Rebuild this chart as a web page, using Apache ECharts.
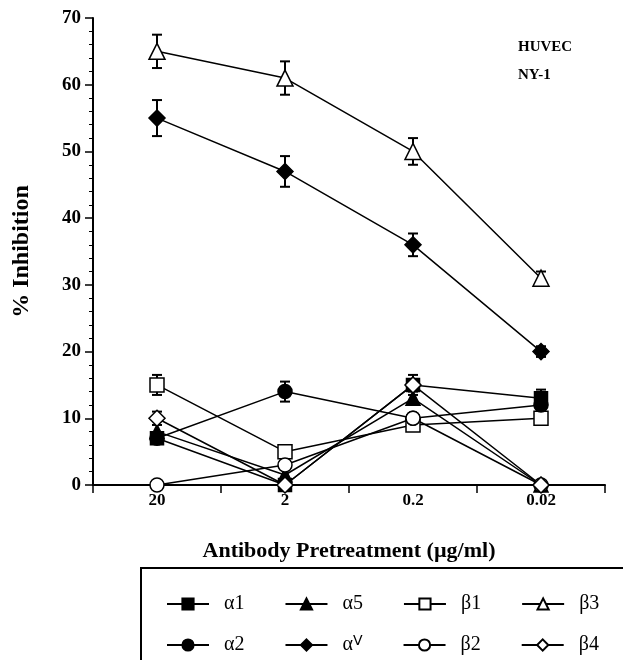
<!DOCTYPE html>
<html>
<head>
<meta charset="utf-8">
<script src="https://cdn.jsdelivr.net/npm/echarts@6/dist/echarts.min.js"></script>
<style>
  html, body { margin: 0; padding: 0; background: #fff; }
  #chart { width: 623px; height: 660px; }
</style>
</head>
<body>
<div id="chart"></div>
<script>
// concentrations (µg/ml)
const doses = ['20', '2', '0.2', '0.02'];
const yTicks = [0, 10, 20, 30, 40, 50, 60, 70];

// % inhibition per antibody
const alpha1 = [7, 0, 15, 13];
const alpha5 = [8, 1.5, 13, 0];
const beta1 = [15, 5, 9, 10];
const beta3 = [65, 61, 50, 31];
const alpha2 = [7, 14, 10, 12];
const alphaV = [55, 47, 36, 20];
const beta2 = [0, 3, 10, 0];
const beta4 = [10, 0, 15, 0];

// error bar half-heights
const alpha1Err = [0, 0, 0, 1.3];
const alpha5Err = [0, 0, 1, 0];
const beta1Err = [1.5, 0, 0, 0];
const beta3Err = [2.5, 2.5, 2, 1];
const alpha2Err = [0, 1.5, 0, 0];
const alphaVErr = [2.7, 2.3, 1.7, 0.8];
const beta4Err = [1, 0, 1.5, 0];

const serif = '"Liberation Serif", "DejaVu Serif", serif';

const defs = [
    { name: 'α1', data: alpha1, err: alpha1Err, symbol: 'rect', size: 13, fill: '#000' },
    { name: 'α5', data: alpha5, err: alpha5Err, symbol: 'triangle', size: 14, fill: '#000' },
    { name: 'β1', data: beta1, err: beta1Err, symbol: 'rect', size: 14, fill: '#fff' },
    { name: 'β3', data: beta3, err: beta3Err, symbol: 'triangle', size: 16, fill: '#fff' },
    { name: 'α2', data: alpha2, err: alpha2Err, symbol: 'circle', size: 14, fill: '#000' },
    { name: 'αV', data: alphaV, err: alphaVErr, symbol: 'diamond', size: 16, fill: '#000' },
    { name: 'β2', data: beta2, err: null, symbol: 'circle', size: 14, fill: '#fff' },
    { name: 'β4', data: beta4, err: beta4Err, symbol: 'diamond', size: 16, fill: '#fff' }
];

const errData = [];
defs.forEach(d => {
    if (!d.err) return;
    d.err.forEach((e, i) => { if (e > 0) errData.push([i, d.data[i], e]); });
});

const chart = echarts.init(document.getElementById('chart'));

const legendCommon = {
    orient: 'horizontal',
    left: 161,
    itemWidth: 42,
    itemHeight: 14,
    itemGap: 40,
    textStyle: {
        fontFamily: serif, fontSize: 20, color: '#000', width: 40, padding: [0, 0, 0, 10],
        rich: { sup: { fontFamily: 'DejaVu Sans', fontSize: 14, verticalAlign: 'top', padding: [0, 0, 8, 0] } }
    },
    formatter: n => n === 'αV' ? 'α{sup|V}' : n
};

const option = {
    animation: false,
    backgroundColor: '#fff',
    grid: { left: 93, right: 18, top: 18, bottom: 175 },
    legend: [
        Object.assign({ top: 589, data: ['α1', 'α5', 'β1', 'β3'] }, legendCommon),
        Object.assign({ top: 629, data: ['α2', 'αV', 'β2', 'β4'] }, legendCommon)
    ],
    xAxis: {
        type: 'category',
        data: doses,
        boundaryGap: true,
        name: 'Antibody Pretreatment (µg/ml)',
        nameLocation: 'middle',
        nameGap: 55,
        nameTextStyle: { fontFamily: serif, fontSize: 22, fontWeight: 'bold', color: '#000' },
        axisLine: { lineStyle: { color: '#000', width: 2 } },
        axisTick: { show: true, length: 8, lineStyle: { color: '#000', width: 1.5 } },
        axisLabel: { fontFamily: serif, fontSize: 17, fontWeight: 'bold', color: '#000', margin: 7 },
        splitLine: { show: false }
    },
    yAxis: {
        type: 'value',
        min: yTicks[0],
        max: yTicks[yTicks.length - 1],
        interval: 10,
        name: '% Inhibition',
        nameLocation: 'middle',
        nameGap: 59,
        nameTextStyle: { fontFamily: serif, fontSize: 24, fontWeight: 'bold', color: '#000' },
        axisLine: { show: true, lineStyle: { color: '#000', width: 2 } },
        axisTick: { show: true, length: 8, lineStyle: { color: '#000', width: 1.5 } },
        minorTick: { show: true, splitNumber: 5, length: 4, lineStyle: { color: '#000', width: 1 } },
        axisLabel: { fontFamily: serif, fontSize: 19, fontWeight: 'bold', color: '#000', margin: 12 },
        splitLine: { show: false }
    },
    graphic: [
        { type: 'rect', shape: { x: 141, y: 568, width: 520, height: 120 }, style: { fill: 'none', stroke: '#000', lineWidth: 2 } },
        { type: 'text', left: 518, top: 33, style: { text: 'HUVEC\nNY-1', font: 'bold 15px ' + serif, fill: '#000', lineHeight: 28 } }
    ],
    series: [
        {
            type: 'custom',
            name: 'err',
            z: 1,
            silent: true,
            data: errData,
            renderItem: (params, api) => {
                const x = api.coord([api.value(0), 0])[0];
                const hi = api.coord([api.value(0), api.value(1) + api.value(2)])[1];
                const lo = api.coord([api.value(0), api.value(1) - api.value(2)])[1];
                const style = { stroke: '#000', lineWidth: 2 };
                return {
                    type: 'group',
                    children: [
                        { type: 'line', shape: { x1: x, y1: hi, x2: x, y2: lo }, style },
                        { type: 'line', shape: { x1: x - 5, y1: hi, x2: x + 5, y2: hi }, style },
                        { type: 'line', shape: { x1: x - 5, y1: lo, x2: x + 5, y2: lo }, style }
                    ]
                };
            }
        }
    ].concat(defs.map(d => ({
        name: d.name,
        type: 'line',
        z: 3,
        data: d.data,
        symbol: d.symbol,
        symbolSize: d.size,
        showAllSymbol: true,
        lineStyle: { color: '#000', width: 1.5 },
        itemStyle: { color: d.fill, borderColor: '#000', borderWidth: 1.5 }
    })))
};

chart.setOption(option);
</script>
</body>
</html>
